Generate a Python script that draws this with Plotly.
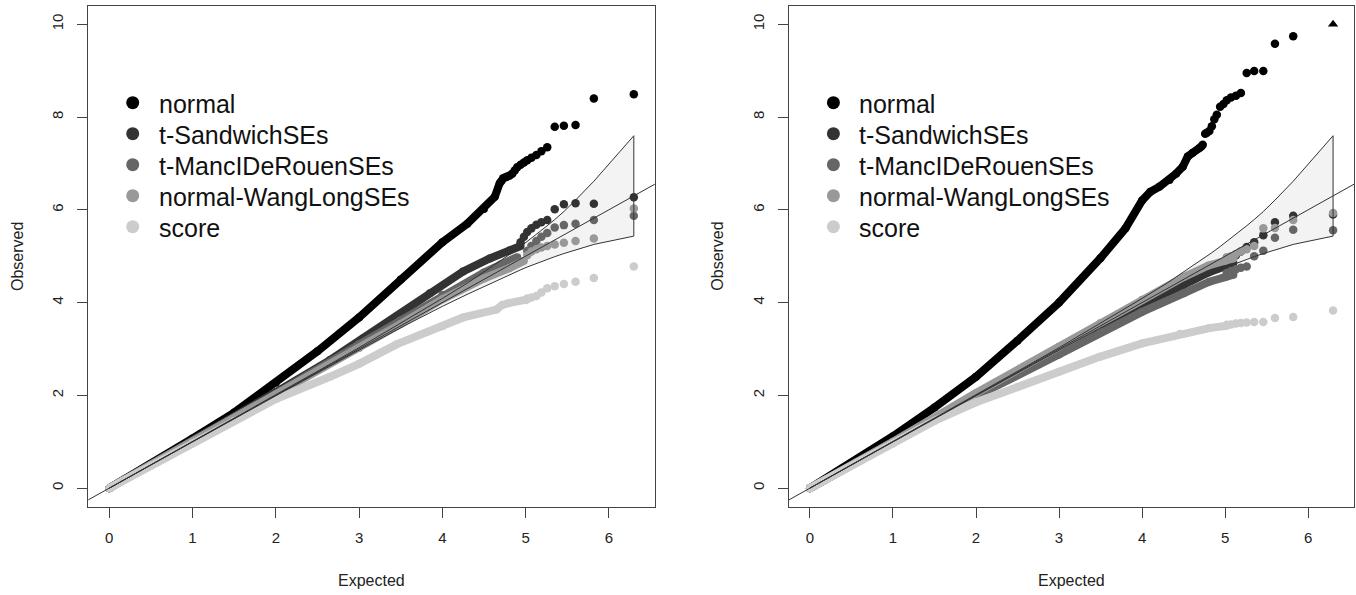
import plotly.graph_objects as go

# ---------------- data ----------------
series_names = ["normal", "t-SandwichSEs", "t-MancIDeRouenSEs", "normal-WangLongSEs", "score"]
series_colors = ["#000000", "#333333", "#666666", "#999999", "#cccccc"]

x_ticks = [0, 1, 2, 3, 4, 5, 6]
y_ticks = [0, 2, 4, 6, 8, 10]
y_max_shown = 10.0

# 95% band around the null (expected vs observed -log10 p)
band_expected = [0.0, 1.0, 2.0, 2.52, 3.0, 3.52, 4.0, 4.31, 4.53, 4.71, 4.84, 4.94, 5.02,
                 5.13, 5.19, 5.26, 5.35, 5.46, 5.60, 5.82, 6.30]
band_upper = [0.0, 1.003, 2.009, 2.539, 3.028, 3.575, 4.089, 4.431, 4.694, 4.913, 5.076, 5.208,
              5.319, 5.462, 5.551, 5.657, 5.790, 5.963, 6.209, 6.616, 7.597]
band_lower = [0.0, 0.997, 1.991, 2.508, 2.974, 3.476, 3.919, 4.187, 4.379, 4.528, 4.623, 4.706,
              4.767, 4.841, 4.884, 4.933, 4.990, 5.057, 5.141, 5.254, 5.433]
reference_line = [-1.0, 8.0]

# expected value of the top-ranked (most significant) points
tail_expected = [6.30, 5.82, 5.60, 5.46, 5.35, 5.26, 5.19, 5.13, 5.07, 5.02,
                 4.98, 4.94, 4.90, 4.87, 4.84, 4.81, 4.78, 4.76, 4.73, 4.71]

# ---- left panel ----
left_normal_x = [0, 0.5, 1.0, 1.5, 2.0, 2.5, 3.0, 3.5, 4.0, 4.3, 4.5, 4.63, 4.69]
left_normal_y = [0, 0.52, 1.07, 1.63, 2.27, 2.95, 3.68, 4.5, 5.3, 5.7, 6.02, 6.28, 6.58]
left_normal_tail = [8.49, 8.40, 7.83, 7.81, 7.79, 7.35, 7.26, 7.18, 7.12, 7.07,
                    7.02, 6.97, 6.92, 6.85, 6.78, 6.74, 6.72, 6.70, 6.68, 6.62]

left_sandwich_x = [0, 1, 2, 2.65, 3.05, 3.45, 3.85, 4.25, 4.57, 4.81, 4.94]
left_sandwich_y = [0, 1.02, 2.07, 2.76, 3.23, 3.70, 4.20, 4.67, 4.95, 5.13, 5.22]
left_sandwich_tail = [6.27, 6.13, 6.14, 6.12, 6.01, 5.78, 5.73, 5.68, 5.60, 5.52, 5.42, 5.30]

left_mancl_x = [0, 1, 2, 3, 3.5, 4, 4.5, 4.7, 4.9]
left_mancl_y = [0, 1.0, 2.03, 3.1, 3.62, 4.17, 4.65, 4.82, 4.98]
left_mancl_tail = [5.87, 5.78, 5.70, 5.67, 5.62, 5.50, 5.42, 5.33, 5.22, 5.11]

left_wanglong_x = [0, 1, 2, 3, 3.5, 4, 4.5, 4.8, 4.98]
left_wanglong_y = [0, 1.0, 2.0, 3.02, 3.54, 4.07, 4.52, 4.74, 4.9]
left_wanglong_tail = [6.03, 5.38, 5.33, 5.29, 5.25, 5.22, 5.19, 5.15, 5.10, 5.02]

left_score_x = [0, 0.5, 1, 1.5, 2, 2.65, 3.0, 3.45, 4.0, 4.25, 4.65, 4.72, 4.80, 5.0, 5.02]
left_score_y = [0, 0.49, 0.97, 1.45, 1.92, 2.40, 2.68, 3.10, 3.49, 3.68, 3.85, 3.95, 3.99, 4.05, 4.07]
left_score_tail = [4.78, 4.53, 4.45, 4.40, 4.35, 4.31, 4.22, 4.14, 4.11, 4.09]

# ---- right panel ----
right_normal_x = [0, 0.5, 1.0, 1.5, 2.0, 2.5, 3.0, 3.5, 3.8, 4.0, 4.1, 4.21, 4.33, 4.41, 4.49,
                  4.55, 4.61, 4.69]
right_normal_y = [0, 0.55, 1.12, 1.74, 2.40, 3.18, 4.0, 4.96, 5.6, 6.2, 6.39, 6.5, 6.64, 6.78,
                  6.93, 7.15, 7.23, 7.33]
right_normal_tail = [10.0, 9.74, 9.58, 8.99, 8.99, 8.95, 8.52, 8.46, 8.42, 8.36,
                     8.28, 8.22, 8.05, 7.95, 7.80, 7.70, 7.66, 7.64, 7.40, 7.36]

right_sandwich_x = [0, 1, 2, 3, 3.5, 4, 4.5, 4.8, 5.0, 5.1]
right_sandwich_y = [0, 1.0, 2.02, 2.98, 3.47, 3.95, 4.38, 4.65, 4.78, 4.86]
right_sandwich_tail = [5.90, 5.87, 5.73, 5.45, 5.30, 5.20, 5.10, 5.02, 4.95, 4.90]

right_mancl_x = [0, 1, 2, 3, 3.5, 4, 4.5, 4.81, 5.0, 5.1]
right_mancl_y = [0, 1.0, 1.98, 2.88, 3.36, 3.8, 4.2, 4.45, 4.55, 4.6]
right_mancl_tail = [5.56, 5.57, 5.40, 5.12, 5.00, 4.78, 4.75, 4.72, 4.68, 4.64]

right_wanglong_x = [0, 1, 2, 3, 3.5, 4, 4.5, 4.8, 5.0, 5.1]
right_wanglong_y = [0, 1.0, 2.05, 3.05, 3.56, 4.06, 4.55, 4.8, 4.9, 4.95]
right_wanglong_tail = [5.93, 5.78, 5.61, 5.60, 5.22, 5.15, 5.10, 5.05, 5.00, 4.98]

right_score_x = [0, 1.0, 1.5, 2.0, 2.5, 3.0, 3.49, 4.0, 4.46, 4.81, 5.02]
right_score_y = [0, 0.96, 1.45, 1.85, 2.18, 2.51, 2.83, 3.12, 3.33, 3.45, 3.50]
right_score_tail = [3.83, 3.69, 3.67, 3.58, 3.58, 3.57, 3.56, 3.55, 3.53, 3.52]

left_series = [
    (left_normal_x, left_normal_y, left_normal_tail),
    (left_sandwich_x, left_sandwich_y, left_sandwich_tail),
    (left_mancl_x, left_mancl_y, left_mancl_tail),
    (left_wanglong_x, left_wanglong_y, left_wanglong_tail),
    (left_score_x, left_score_y, left_score_tail),
]
right_series = [
    (right_normal_x, right_normal_y, right_normal_tail),
    (right_sandwich_x, right_sandwich_y, right_sandwich_tail),
    (right_mancl_x, right_mancl_y, right_mancl_tail),
    (right_wanglong_x, right_wanglong_y, right_wanglong_tail),
    (right_score_x, right_score_y, right_score_tail),
]

# ---------------- figure ----------------
W, H = 1356, 595
FONT = "Liberation Sans, Arial, Helvetica, sans-serif"
fig = go.Figure()


def add_panel(series, xa, ya):
    # confidence band fill
    fig.add_trace(go.Scatter(
        x=band_expected + band_expected[::-1], y=band_upper + band_lower[::-1],
        fill="toself", fillcolor="#f3f3f3", mode="none",
        xaxis=xa, yaxis=ya, showlegend=False, hoverinfo="skip"))
    for (sx, sy, tail), name, col in zip(series, series_names, series_colors):
        fig.add_trace(go.Scatter(
            x=sx, y=sy, mode="lines+markers", name=name,
            line=dict(color=col, width=8), marker=dict(color=col, size=8),
            xaxis=xa, yaxis=ya, showlegend=False, hoverinfo="skip"))
        tx = tail_expected[:len(tail)]
        cx = [x for x, v in zip(tx, tail) if v < y_max_shown]
        cy = [v for v in tail if v < y_max_shown]
        fig.add_trace(go.Scatter(
            x=cx, y=cy, mode="markers", name=name, marker=dict(color=col, size=8.5),
            xaxis=xa, yaxis=ya, showlegend=False, hoverinfo="skip"))
        clipped_x = [x for x, v in zip(tx, tail) if v >= y_max_shown]
        if clipped_x:
            fig.add_trace(go.Scatter(
                x=clipped_x, y=[y_max_shown] * len(clipped_x), mode="markers", name=name,
                marker=dict(color=col, size=9, symbol="triangle-up"),
                xaxis=xa, yaxis=ya, showlegend=False, hoverinfo="skip"))
    # band outline and reference line on top
    fig.add_trace(go.Scatter(
        x=band_expected + band_expected[::-1], y=band_upper + band_lower[::-1],
        mode="lines", line=dict(color="#333333", width=1),
        xaxis=xa, yaxis=ya, showlegend=False, hoverinfo="skip"))
    fig.add_trace(go.Scatter(
        x=reference_line, y=reference_line, mode="lines",
        line=dict(color="#333333", width=1),
        xaxis=xa, yaxis=ya, showlegend=False, hoverinfo="skip"))


add_panel(left_series, "x", "y")
add_panel(right_series, "x2", "y2")

box_top_px, box_bottom_px = 5.7, 506.7
panels_px = [(88.3, 654.8), (789.0, 1354.0)]
y_dom = [(H - box_bottom_px) / H, (H - box_top_px) / H]

axis_common = dict(
    showgrid=False, zeroline=False, showline=True, linecolor="#444444", linewidth=1.2,
    mirror=True, ticks="outside", ticklen=10, tickwidth=1.2, tickcolor="#444444",
    tickfont=dict(family=FONT, size=15, color="#222222"),
)

fig.update_layout(
    width=W, height=H, margin=dict(l=0, r=0, t=0, b=0),
    paper_bgcolor="white", plot_bgcolor="white", showlegend=False,
    xaxis=dict(domain=[panels_px[0][0] / W, panels_px[0][1] / W], range=[-0.252, 6.552],
               tickvals=x_ticks, anchor="y", ticklabelstandoff=7, **axis_common),
    yaxis=dict(domain=y_dom, range=[-0.4, 10.4], tickvals=y_ticks, anchor="x",
               tickangle=-90, ticklabelstandoff=8, **axis_common),
    xaxis2=dict(domain=[panels_px[1][0] / W, panels_px[1][1] / W], range=[-0.252, 6.552],
                tickvals=x_ticks, anchor="y2", ticklabelstandoff=7, **axis_common),
    yaxis2=dict(domain=y_dom, range=[-0.4, 10.4], tickvals=y_ticks, anchor="x2",
                tickangle=-90, ticklabelstandoff=8, **axis_common),
)

# axis titles
title_font = dict(family=FONT, size=16, color="#222222")
for (bl, br) in panels_px:
    fig.add_annotation(x=(bl + br) / 2 / W, y=(H - 580.6) / H, xref="paper", yref="paper",
                       text="Expected", showarrow=False, font=title_font,
                       xanchor="center", yanchor="middle")
    fig.add_annotation(x=(bl - 71.5) / W, y=(H - (box_top_px + box_bottom_px) / 2) / H,
                       xref="paper", yref="paper", text="Observed", showarrow=False,
                       font=title_font, textangle=-90, xanchor="center", yanchor="middle")

# legends (R-style, inside each panel, no frame)
legend_font = dict(family=FONT, size=25, color="#111111")
legend_first_y, legend_step = 102.7, 31.0
for (bl, br) in panels_px:
    sym_x = bl + 44.4
    txt_x = bl + 68.4
    for k, (name, col) in enumerate(zip(series_names, series_colors)):
        yc = legend_first_y + k * legend_step
        fig.add_shape(type="circle", xref="paper", yref="paper",
                      xsizemode="pixel", ysizemode="pixel",
                      xanchor=sym_x / W, yanchor=(H - yc) / H,
                      x0=-6.5, x1=6.5, y0=-6.5, y1=6.5,
                      fillcolor=col, line=dict(width=0))
        fig.add_annotation(x=txt_x / W, y=(H - yc - 1) / H, xref="paper", yref="paper",
                           text=name, showarrow=False, font=legend_font,
                           xanchor="left", yanchor="middle")

fig.write_html("out.html")
